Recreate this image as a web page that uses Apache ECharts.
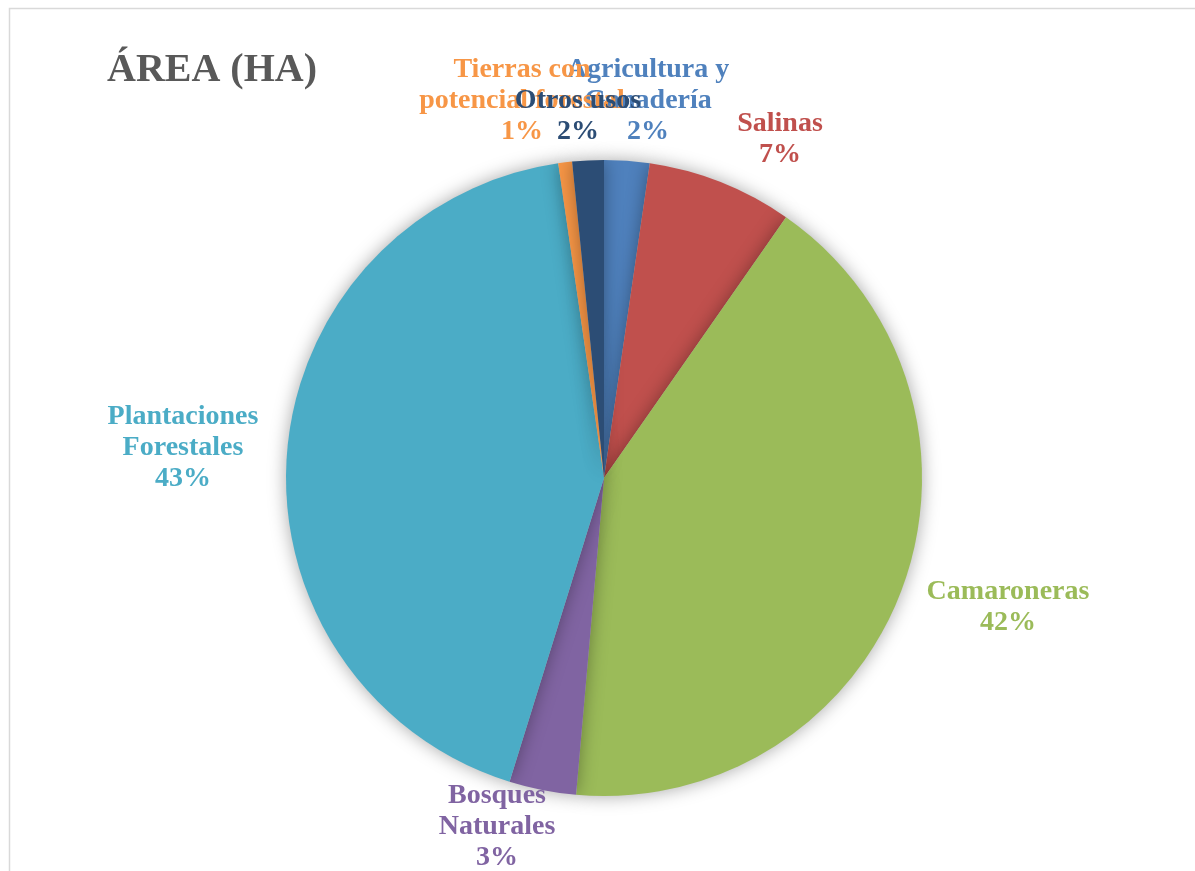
<!DOCTYPE html>
<html>
<head>
<meta charset="utf-8">
<script src="https://cdn.jsdelivr.net/npm/echarts@6/dist/echarts.min.js"></script>
<style>
  html, body { margin: 0; padding: 0; background: #fff; }
  #chart { width: 1195px; height: 871px; }
</style>
</head>
<body>
<div id="chart"></div>
<script>
// datos del gráfico (porcentaje del área, en orden horario desde las 12)
var categorias = ['Agricultura y\nGanadería', 'Salinas', 'Camaroneras', 'Bosques\nNaturales',
                  'Plantaciones\nForestales', 'Tierras con\npotencial forestal', 'Otros usos'];
var valores = [2.3, 7.4, 41.7, 3.4, 42.9, 0.7, 1.6];
var colores = ['#4F81BD', '#C0504D', '#9BBB59', '#8064A2', '#4BACC6', '#F79646', '#2C4D75'];

// posición de las etiquetas (centro del texto), como en el original
var posEtiquetas = [[648, 101], [780, 139], [1008, 607], [497, 827], [183, 448], [522, 101], [578, 116]];

var chart = echarts.init(document.getElementById('chart'));
var option = {
  backgroundColor: '#fff',
  animation: false,
  color: colores,
  title: {
    text: 'ÁREA (HA)',
    left: 102,
    top: 46,
    textStyle: {
      fontFamily: 'Liberation Serif',
      fontWeight: 'bold',
      fontSize: 40,
      color: '#595959'
    }
  },
  graphic: [{
    type: 'rect',
    shape: { x: 9.5, y: 8.5, width: 1300, height: 1000 },
    style: { fill: null, stroke: '#D9D9D9', lineWidth: 1.5 },
    silent: true
  }],
  series: [{
    type: 'pie',
    center: [604, 478],
    radius: 318,
    startAngle: 90,
    clockwise: true,
    percentPrecision: 0,
    avoidLabelOverlap: false,
    itemStyle: {
      shadowBlur: 18,
      shadowColor: 'rgba(0,0,0,0.35)'
    },
    labelLine: { show: false },
    label: {
      show: true,
      position: 'outside',
      formatter: '{b}\n{d}%',
      fontFamily: 'Liberation Serif',
      fontWeight: 'bold',
      fontSize: 28,
      lineHeight: 31,
      align: 'center'
    },
    labelLayout: function (params) {
      var p = posEtiquetas[params.dataIndex];
      return { x: p[0], y: p[1], align: 'center', verticalAlign: 'middle' };
    },
    emphasis: { disabled: true },
    data: categorias.map(function (c, i) {
      return { name: c, value: valores[i], label: { color: colores[i] } };
    })
  }]
};
chart.setOption(option);
</script>
</body>
</html>
